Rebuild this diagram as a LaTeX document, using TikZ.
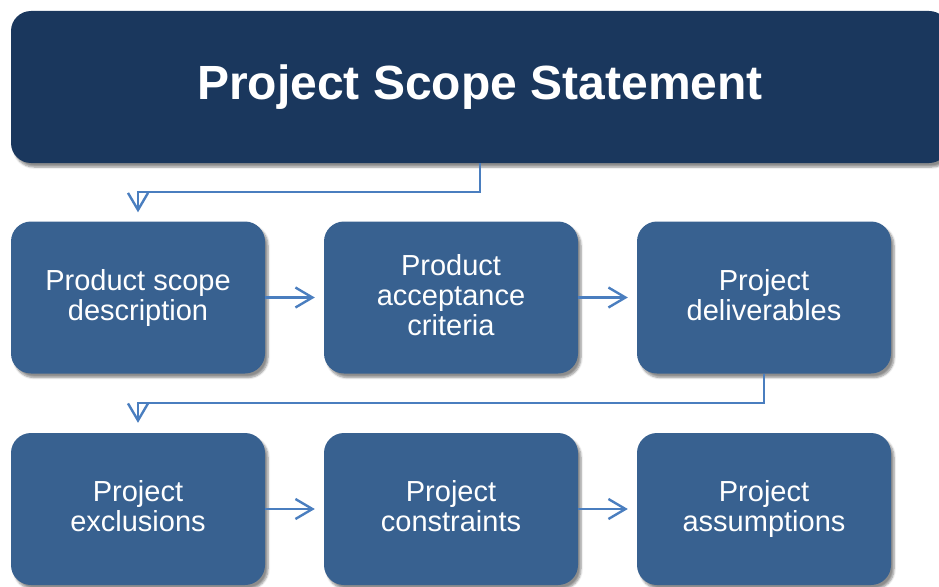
\documentclass[tikz,border=0pt]{standalone}
\usepackage{fontspec}
\setmainfont{Liberation Sans}
\usetikzlibrary{arrows.meta,shadows.blur}
\definecolor{headblue}{HTML}{1A375D}
\definecolor{boxblue}{HTML}{386190}
\definecolor{linkblue}{HTML}{4A7EBF}
\tikzset{
  scopebox/.style={fill=boxblue, rounded corners=20pt, minimum width=254pt, minimum height=152pt,
    text=white, align=center, font=\fontsize{29}{30}\selectfont, inner sep=0pt,
    execute at end node={\vphantom{py}},
    blur shadow={shadow xshift=3pt, shadow yshift=-4pt, shadow blur steps=6, shadow opacity=45}},
  headbox/.style={scopebox, fill=headblue, minimum width=938pt, font=\fontsize{48}{54}\selectfont\bfseries},
  link/.style={draw=linkblue, line width=2.4pt, -{Straight Barb[length=17pt,width=20pt,line width=2.4pt]}}
}
\begin{document}
\begin{tikzpicture}[x=1pt,y=-1pt]
\useasboundingbox (0,0) rectangle (939,586);
\clip (0,0) rectangle (939,586);
\node [headbox] (statement) at (480,87) {Project Scope Statement};
\node [scopebox] (product) at (138,297.5) {Product scope\\description};
\node [scopebox] (accept) at (451,297.5) {Product\\acceptance\\criteria};
\node [scopebox] (deliver) at (764,297.5) {Project\\deliverables};
\node [scopebox] (exclude) at (138,509) {Project\\exclusions};
\node [scopebox] (constrain) at (451,509) {Project\\constraints};
\node [scopebox] (assume) at (764,509) {Project\\assumptions};
\draw [link, shorten >=9pt] (statement.south) -- ++(0,29) -| (product.north);
\draw [link, shorten >=9pt] (product.east) -- (accept.west);
\draw [link, shorten >=9pt] (accept.east) -- (deliver.west);
\draw [link, shorten >=10pt] (deliver.south) -- ++(0,29) -| (exclude.north);
\draw [link, shorten >=9pt] (exclude.east) -- (constrain.west);
\draw [link, shorten >=9pt] (constrain.east) -- (assume.west);
\end{tikzpicture}
\end{document}
